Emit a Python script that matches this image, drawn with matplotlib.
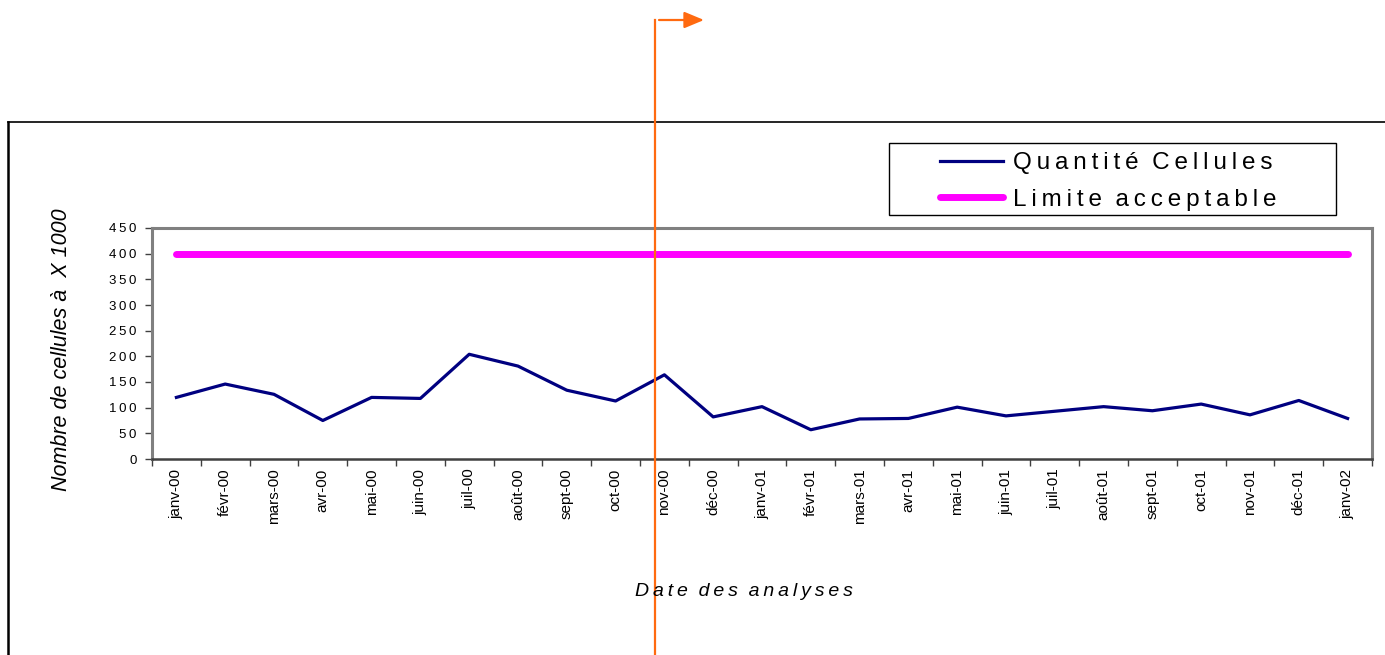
import matplotlib
matplotlib.use("Agg")
import matplotlib.pyplot as plt
from matplotlib.lines import Line2D
from matplotlib.patches import Rectangle

plt.rcParams['font.family'] = ['Liberation Sans', 'DejaVu Sans']

# donnees
mois = ["janv-00", "févr-00", "mars-00", "avr-00", "mai-00", "juin-00", "juil-00",
        "août-00", "sept-00", "oct-00", "nov-00", "déc-00", "janv-01", "févr-01",
        "mars-01", "avr-01", "mai-01", "juin-01", "juil-01", "août-01", "sept-01",
        "oct-01", "nov-01", "déc-01", "janv-02"]
cellules = [120, 146, 126, 75, 120, 118, 204, 181, 134, 113, 164, 82, 102, 57,
            78, 79, 101, 84, 93, 102, 94, 107, 86, 114, 79]
limite = [400] * len(mois)
yticks = [0, 50, 100, 150, 200, 250, 300, 350, 400, 450]


def espace(s):
    # simule l'espacement des lettres
    return "\u2009".join(s).replace("\u2009 \u2009", "  ")


W, H = 1385, 655
fig = plt.figure(figsize=(W / 100, H / 100), dpi=100)

# cadre exterieur (haut + gauche)
fig.add_artist(Line2D([8 / W, 1], [1 - 122 / H, 1 - 122 / H], color="black", lw=1.2))
fig.add_artist(Line2D([8 / W, 8 / W], [0, 1 - 122 / H], color="black", lw=1.8))

ax = fig.add_axes([152 / W, 196 / H, 1220 / W, 231 / H])
x = list(range(len(mois)))
l1, = ax.plot(x, cellules, color="#000080", lw=2.3)
l2, = ax.plot(x, limite, color="#FF00FF", lw=5, solid_capstyle="round")

ax.set_xlim(-0.5, len(mois) - 0.5)
ax.set_ylim(0, 450)
ax.set_yticks(yticks)
ax.set_yticklabels([espace(str(v)) for v in yticks], fontsize=9.5)
ax.set_xticks(x)
ax.set_xticklabels(mois, rotation=90, fontsize=11)
ax.tick_params(axis="x", which="major", length=0, pad=7)
ax.set_xticks([i - 0.5 for i in range(len(mois) + 1)], minor=True)
ax.tick_params(axis="x", which="minor", length=5, width=1, color="#404040")
ax.tick_params(axis="y", length=5, width=1, color="#404040", pad=6)

for s in ["top", "right", "left"]:
    ax.spines[s].set_color("#808080")
    ax.spines[s].set_linewidth(2.2)
ax.spines["bottom"].set_color("#404040")
ax.spines["bottom"].set_linewidth(1.8)

fig.text(62 / W, 1 - 350 / H, "Nombre de cellules à  X 1000", rotation=90,
         fontsize=15.5, style="italic", ha="center", va="center")
fig.text(744 / W, 1 - 591 / H, espace("Date des analyses"),
         fontsize=14, style="italic", ha="center", va="center")

# legende : cadre dessine a part
fig.add_artist(Rectangle((889 / W, 1 - 215 / H), 447 / W, 72 / H, transform=fig.transFigure,
                         fill=False, edgecolor="black", lw=1))
leg = fig.legend([l1, l2], [espace("Quantité Cellules"), espace("Limite acceptable")],
                 loc="upper left", bbox_to_anchor=(940 / W, 1 - 152 / H),
                 fontsize=17.5, frameon=False, handlelength=2.6,
                 borderpad=0, labelspacing=0.6, handletextpad=0.4,
                 borderaxespad=0)

# trait orange vertical avec fleche
fig.add_artist(Line2D([655 / W, 655 / W], [0, 1 - 20 / H], color="#FF6A10", lw=1.6))
ax.annotate("", xy=(704, H - 20), xytext=(659, H - 20), xycoords="figure pixels",
            textcoords="figure pixels",
            arrowprops=dict(arrowstyle="-|>,head_length=1.2,head_width=0.5",
                            color="#FF6A10", lw=1.6, shrinkA=0, shrinkB=0))

fig.savefig("out.png", dpi=100)
